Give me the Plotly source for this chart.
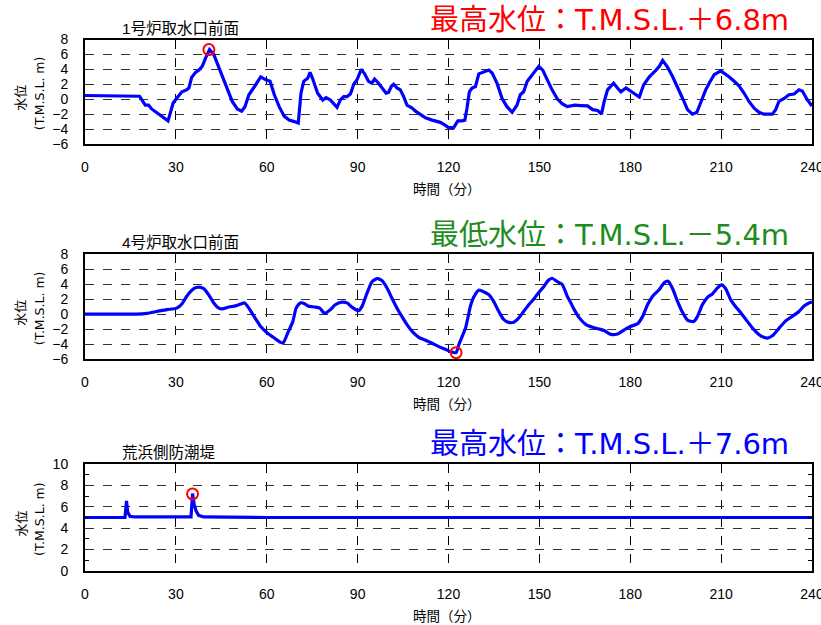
import plotly.graph_objects as go

# ---------------- data ----------------
# Panel 1: 1号炉取水口前面
t1 = [0, 5, 10, 15, 18, 19.9, 21, 22, 24.3, 26, 27.4, 28.2, 29.1, 30.4, 32, 33.5, 34.3, 35.2,
      36.5, 37.6, 38.7, 39.8, 41.1, 42.5, 44.2, 45.8, 46.9, 48.6, 50.3, 51.7, 52.8, 54.1, 55.8,
      58, 59.7, 61.1, 62.5, 64.1, 65.8, 67.4, 69.1, 70.4, 71.3, 72.2, 73.5, 74.3, 75.1, 76.8,
      78.5, 79.6, 81, 82, 83.2, 84.3, 85.4, 86.5, 87.6, 88.1, 88.7, 89.8, 91.2, 92.3, 93.6,
      94.7, 95.6, 96.9, 98.2, 99.4, 100.2, 101.1, 101.9, 103, 104.1, 105.2, 106.3, 108, 109.1,
      110.7, 112.4, 114.6, 117.3, 119, 120, 121.7, 123.1, 124.5, 125.4, 126.1, 126.9, 127.8,
      128.9, 130, 131.6, 133.3, 134.4, 136, 137.7, 139.3, 141, 142.6, 143.7, 144.8, 146, 147.1,
      148.7, 149.8, 151.1, 152.5, 154.2, 155.9, 157.5, 159.2, 160.8, 161.7, 163.7, 165.9, 167.6,
      169.2, 170.5, 171.4, 172.5, 174.5, 175.8, 176.9, 178.6, 180, 181.3, 183, 184.4, 186.3,
      188.5, 189.6, 190.7, 192.3, 194, 195.6, 197.3, 198.9, 200.5, 202, 203.3, 204.9, 206,
      207.7, 209.9, 211, 212.6, 214.3, 215.9, 217.6, 219.2, 220.9, 222.5, 224.2, 226.9, 228,
      229.1, 230.8, 232.4, 234.1, 235.7, 236.8, 238.5, 240]
w1 = [0.5, 0.5, 0.5, 0.45, 0.4, -0.8, -0.8, -1.3, -2.0, -2.5, -2.9, -1.8, -0.5, 0.2, 1.0, 1.25,
      1.5, 2.9, 3.6, 3.9, 4.4, 5.5, 6.65, 6.0, 4.2, 2.4, 1.5, -0.3, -1.3, -1.6, -1.0, 0.6, 1.6,
      3.0, 2.6, 2.4, 0.6, -1.0, -2.3, -2.8, -3.0, -3.2, 0.8, 2.4, 2.8, 3.6, 2.8, 0.8,
      -0.1, 0.2, -0.1, -0.5, -1.1, -0.1, 0.35, 0.35, 0.7, 1.25, 2.0, 2.6, 4.0, 3.4, 2.4,
      2.15, 2.7, 2.15, 1.5, 0.8, 0.9, 1.7, 2.0, 1.5, 1.25, 0.35, -0.8, -1.2, -1.6,
      -2.1, -2.5, -2.8, -3.1, -3.5, -3.8, -3.8, -2.9, -2.9, -2.8, -1.2, 1.0, 1.5,
      1.7, 3.4, 3.6, 3.9, 3.5, 2.15, 0.1, -1.0, -1.75, -0.8, 0.6, 1.0, 2.4, 3.0,
      3.9, 4.4, 3.9, 2.6, 1.25, 0.05, -0.6, -1.0, -0.9, -0.8, -0.85, -0.9, -1.4,
      -1.5, -2.0, -0.3, 1.25, 2.15, 1.5, 1.0, 1.5, 1.1, 0.8, 0.3, 1.9, 3.0,
      3.9, 4.4, 5.2, 4.3, 3.0, 1.7, 0.1, -1.4, -2.0, -1.75, -0.3, 1.25, 2.1,
      3.3, 3.8, 3.5, 3.0, 2.4, 1.8, 0.8, -0.3, -1.2, -1.75, -2.0, -2.0, -1.4,
      -0.3, 0.1, 0.6, 0.7, 1.25, 1.1, -0.1, -0.9]

# Panel 2: 4号炉取水口前面
t2 = [0, 10, 17, 20.4, 23.7, 27, 30.3, 32, 33.6, 35.9, 37.5, 39.2, 40.8, 42.5, 44.2, 45.3, 47.5,
      49.7, 51.4, 52.7, 54.1, 55.8, 58, 60.3, 62.5, 64.7, 65.5, 66.9, 68.6, 69.7, 71.1, 72.5,
      73.6, 75.8, 77.5, 79.1, 81, 82.6, 84.8, 86.5, 88.1, 90.3, 91.4, 93.1, 94.7, 96.4, 98,
      99.7, 101.3, 103, 104.6, 106.3, 108, 110.2, 112.4, 114.6, 116.8, 119, 120.6, 122.5,
      123.4, 124.5, 125.6, 126.5, 127.2, 128.3, 130, 131.6, 133.3, 134.9, 136.6, 138.2, 139.9,
      141.5, 143.2, 144.8, 146.5, 148.1, 149.8, 151.5, 152.9, 154.2, 155.9, 157.5, 159.2,
      160.4, 161.5, 163.2, 165.4, 167.6, 169.8, 171.4, 173.6, 175.8, 178, 180, 182.4, 184.1,
      185.7, 187.4, 189.6, 191.2, 192.5, 194, 195.6, 197.3, 198.9, 200.9, 202.2, 203.8, 205.5,
      207.1, 208.8, 210.1, 211.5, 213.2, 214.8, 216.5, 218.7, 220.9, 223.1, 225.3, 226.9,
      229.1, 231.3, 233.5, 235.7, 237.4, 239, 240]
w2 = [0, 0, 0, 0.1, 0.35, 0.6, 0.8, 1.35, 2.4, 3.4, 3.6, 3.4, 2.6, 1.5, 0.8, 0.7, 0.95,
      1.1, 1.35, 1.5, 0.8, -0.3, -1.65, -2.55, -3.2, -3.8, -3.8, -2.55, -1.0, 0.8, 1.5, 1.4,
      1.1, 0.95, 0.8, 0.1, 0.6, 1.25, 1.6, 1.5, 0.95, 0.45, 1.0, 2.8, 4.3, 4.75, 4.5,
      3.5, 2.15, 0.8, -0.3, -1.4, -2.3, -3.1, -3.5, -3.9, -4.35, -4.7, -5.0, -5.15,
      -4.1, -3.0, -1.9, -0.3, 1.0, 2.25, 3.2, 3.0, 2.6, 1.7, 0.35, -0.7, -1.1,
      -1.1, -0.5, 0.35, 1.25, 2.0, 2.9, 3.7, 4.5, 4.8, 4.35, 4.0, 2.4,
      1.5, 0.6, -0.5, -1.4, -1.75, -2.0, -2.2, -2.7, -2.65, -2.1, -1.65, -1.3, -0.3,
      1.25, 2.4, 3.3, 4.2, 4.4, 3.4, 1.7, 0.2, -0.8, -1.0, -0.3, 1.25, 2.25,
      2.7, 3.5, 3.9, 3.4, 1.9, 1.0, 0.2, -1.0, -2.1, -2.9, -3.2, -2.9,
      -1.9, -0.9, -0.3, 0.35, 1.1, 1.5, 1.6]

# Panel 3: 荒浜側防潮堤
t3 = [0, 13.2, 13.7, 14.1, 14.9, 16.5, 20, 35.0, 35.5, 36.05, 36.7, 37.5, 39.1, 45, 60, 240]
w3 = [5.0, 5.0, 6.55, 5.5, 5.1, 5.05, 5.05, 5.05, 7.25, 6.2, 5.6, 5.2, 5.05, 5.02, 5.0, 5.0]

# Marked extremes (circle positions) per panel
peak_t = [40.9, 122.5, 35.5]
peak_w = [6.65, -5.15, 7.22]

panel_titles = ["1号炉取水口前面", "4号炉取水口前面", "荒浜側防潮堤"]
extreme_labels = ["最高水位：T.M.S.L.＋6.8m", "最低水位：T.M.S.L.－5.4m", "最高水位：T.M.S.L.＋7.6m"]
extreme_colors = ["#FF0000", "#1E8C1E", "#0000FF"]
x_title = "時間（分）"
y_title_main = "水位"
y_title_sub = "(T.M.S.L. m)"
x_ticks = [0, 30, 60, 90, 120, 150, 180, 210, 240]
y_ranges = [[-6, 8], [-6, 8], [0, 10]]

# ---------------- figure ----------------
FONT = "Liberation Sans, Arial, Noto Sans CJK JP, sans-serif"
JFONT = "Noto Sans CJK JP, sans-serif"
BIG = "DejaVu Sans, Noto Sans CJK JP, sans-serif"
SUB = "DejaVu Sans, Noto Sans CJK JP, sans-serif"

W, H = 821, 625
# page-pixel plot edges
P_LEFT, P_RIGHT, P_TOP, P_BOT = 85, 812, 39, 571
ML = P_LEFT
MR = W - P_RIGHT
MT = P_TOP
MB = H - P_BOT
plot_h = H - MT - MB
plot_w = W - ML - MR

def py2paper(py):
    return (P_BOT - py) / plot_h

def px2paper(px):
    return (px - P_LEFT) / plot_w

# page-pixel extents of each panel (top, bottom)
panel_px = [(39.5, 144), (254.3, 359), (464.3, 570.7)]
domains = [[max(0.0, py2paper(b)), min(1.0, py2paper(t))] for t, b in panel_px]

fig = go.Figure()
series = [(t1, w1), (t2, w2), (t3, w3)]
for i, (tx, wy) in enumerate(series):
    ax = "" if i == 0 else str(i + 1)
    fig.add_trace(go.Scatter(
        x=tx, y=wy, mode="lines",
        line=dict(color="#0000FF", width=3.2, shape="spline" if i == 1 else "linear",
                  smoothing=0.6),
        xaxis="x" + ax, yaxis="y" + ax, showlegend=False, hoverinfo="skip"))
    fig.add_trace(go.Scatter(
        x=[peak_t[i]], y=[peak_w[i]], mode="markers",
        marker=dict(symbol="circle-open", size=11, color="#FF0000", line=dict(width=2, color="#FF0000")),
        xaxis="x" + ax, yaxis="y" + ax, showlegend=False, hoverinfo="skip"))

layout = dict(
    width=W, height=H, margin=dict(l=ML, r=MR, t=MT, b=MB, autoexpand=False),
    paper_bgcolor="white", plot_bgcolor="white",
    font=dict(family=FONT, size=14, color="black"),
    showlegend=False,
)

annotations = []
for i in range(3):
    ax = "" if i == 0 else str(i + 1)
    xa = dict(
        domain=[0, 1], anchor="y" + ax, range=[0, 240], tickvals=x_ticks,
        showgrid=True, gridcolor="black", griddash="dash", gridwidth=1,
        showline=True, linecolor="black", linewidth=2, mirror=True,
        zeroline=False, ticks="", ticklabelstandoff=9, ticklabeloverflow="allow",
        tickfont=dict(family=FONT, size=14, color="black"), fixedrange=True,
    )
    ya = dict(
        domain=domains[i], anchor="x" + ax, range=y_ranges[i], dtick=2,
        showgrid=True, gridcolor="#333333", griddash="dash", gridwidth=1,
        showline=True, linecolor="black", linewidth=2, mirror=True,
        zeroline=False, ticks="", ticklabelstandoff=12,
        tickfont=dict(family=FONT, size=14, color="black"), fixedrange=True,
    )
    if i == 2:
        ya["minor"] = dict(dtick=1, ticks="inside", ticklen=4, tickcolor="black", showgrid=False)
        ya["mirror"] = "allticks"
    layout["xaxis" + ax] = xa
    layout["yaxis" + ax] = ya

    top_px, bot_px = panel_px[i]
    mid_px = (top_px + bot_px) / 2
    # panel title
    annotations.append(dict(
        text=panel_titles[i], xref="paper", yref="paper",
        x=px2paper(120), y=py2paper(top_px - 11.5), xanchor="left", yanchor="middle",
        showarrow=False, font=dict(family=FONT, size=15.5, color="black")))
    # extreme value label
    ext_py = [20, 235, 444][i]
    annotations.append(dict(
        text=extreme_labels[i], xref="paper", yref="paper",
        x=px2paper(609), y=py2paper(ext_py), xanchor="center", yanchor="middle",
        showarrow=False, font=dict(family=BIG, size=29, color=extreme_colors[i])))
    # x axis title
    annotations.append(dict(
        text=x_title, xref="paper", yref="paper",
        x=px2paper(447), y=py2paper(bot_px + 44), xanchor="center", yanchor="middle",
        showarrow=False, font=dict(family=JFONT, size=13.5, color="black")))
    # y axis titles
    annotations.append(dict(
        text=y_title_main, xref="paper", yref="paper",
        x=px2paper(20), y=py2paper(mid_px + 6), xanchor="center", yanchor="middle",
        textangle=-90, showarrow=False, font=dict(family=JFONT, size=13, color="black")))
    annotations.append(dict(
        text=y_title_sub, xref="paper", yref="paper",
        x=px2paper(39), y=py2paper(mid_px + 1.5), xanchor="center", yanchor="middle",
        textangle=-90, showarrow=False, font=dict(family=SUB, size=12.5, color="black")))

layout["annotations"] = annotations
fig.update_layout(**layout)
fig.write_html("out.html", include_plotlyjs=True, config={"displayModeBar": False},
               post_script="document.body.style.margin='0';document.body.style.overflow='hidden';")
